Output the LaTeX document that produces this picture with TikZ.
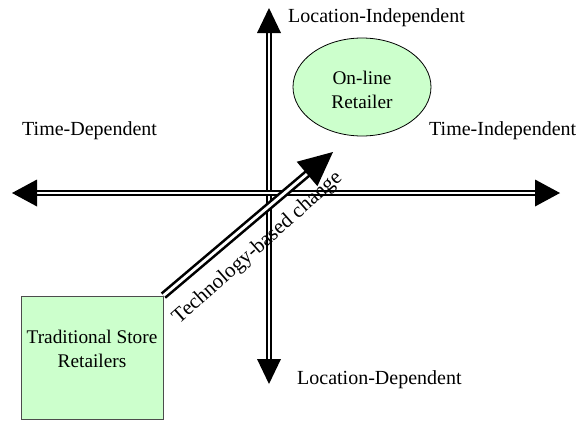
\documentclass[tikz,border=0pt]{standalone}
\usepackage{fontspec}
\setmainfont{Liberation Serif}
\usetikzlibrary{calc,shapes.geometric}
\definecolor{paleGreen}{HTML}{CCFFCC}

% filled triangular head: tip, point it comes from, length, half width
\newcommand{\solidhead}[4]{%
  \coordinate (ahBase) at ($(#1)!#3!(#2)$);
  \fill ($(ahBase)!#4!90:(#1)$) -- (#1) -- ($(ahBase)!#4!-90:(#1)$) -- cycle;
}

\begin{document}
\begin{tikzpicture}[x=1pt,y=-1pt,
  lbl/.style={font=\fontsize{20}{24}\selectfont, inner sep=0pt},
  axisline/.style={draw=black, double=white, line width=1.8pt, double distance=2.4pt},
  shiftline/.style={draw=black, double=white, line width=2.6pt, double distance=2.8pt},
  greenbox/.style={draw=black!70, fill=paleGreen, line width=0.8pt},
  boxtext/.style={align=center, inner sep=0pt, font=\fontsize{19.3}{24}\selectfont},
  greenoval/.style={ellipse, draw=black, fill=paleGreen, line width=0.8pt, inner sep=0pt}]
\useasboundingbox (0,0) rectangle (576,421);

% axis end points
\coordinate (vTop) at (269,8);
\coordinate (vBot) at (269,384);
\coordinate (hLeft) at (12,193);
\coordinate (hRight) at (560,193);

% vertical axis: location
\draw[axisline, shorten <=24pt, shorten >=24pt] (vTop) -- (vBot);
\solidhead{vTop}{vBot}{25pt}{12pt}
\solidhead{vBot}{vTop}{25pt}{12pt}

% horizontal axis: time
\draw[axisline, shorten <=24pt, shorten >=24pt] (hLeft) -- (hRight);
\solidhead{hLeft}{hRight}{25pt}{13.5pt}
\solidhead{hRight}{hLeft}{25pt}{13.5pt}

% axis labels
\node[lbl, anchor=west] (locInd) at (288,18) {Location-Independent};
\node[lbl, anchor=west] (locDep) at (297,380) {Location-Dependent};
\node[lbl, anchor=west] (timeDep) at (22,131) {Time-Dependent};
\node[lbl, anchor=west] (timeInd) at (429,131) {Time-Independent};

% retailers
\node[greenbox, minimum width=142pt, minimum height=123pt] (store) at (92,357.5) {};
\node[boxtext] (storeLbl) at (92,349) {Traditional Store\\Retailers};
\node[greenoval, minimum width=138pt, minimum height=98pt] (online) at (362,87) {};
\node[boxtext] (onlineLbl) at (362,90) {On-line\\Retailer};

% technology-driven shift
\coordinate (shiftTip) at (333,152);
\draw[shiftline, shorten >=32pt] (store.north east) -- (shiftTip);
\solidhead{shiftTip}{store.north east}{34pt}{16pt}
\node[font=\fontsize{21}{24}\selectfont, inner sep=0pt, anchor=base, rotate=41.5]
  (shiftLbl) at (261,252) {Technology-based change};
\end{tikzpicture}
\end{document}
